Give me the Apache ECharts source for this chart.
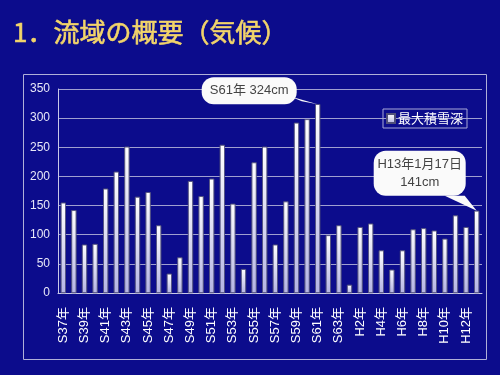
<!DOCTYPE html>
<html><head><meta charset="utf-8">
<script src="https://cdn.jsdelivr.net/npm/echarts@6/dist/echarts.min.js"></script>
<style>html,body{margin:0;padding:0;background:#0c0c8c;}#c{width:500px;height:375px;}</style>
</head><body><div id="c"></div>
<script>
const titleText = '1．流域の概要（気候）';
const seriesName = '最大積雪深';
const categories = [
  'S37年','S38年','S39年','S40年','S41年','S42年','S43年','S44年','S45年','S46年',
  'S47年','S48年','S49年','S50年','S51年','S52年','S53年','S54年','S55年','S56年',
  'S57年','S58年','S59年','S60年','S61年','S62年','S63年',
  'H1年','H2年','H3年','H4年','H5年','H6年','H7年','H8年','H9年','H10年','H11年','H12年','H13年'
];
const snowDepth = [
  155,142,83,84,179,208,251,165,173,116,
  33,61,192,166,196,254,153,41,224,251,
  83,157,292,298,324,99,116,
  14,113,119,73,40,73,109,111,107,93,133,113,141
];
const yTicks = {min:0, max:350, interval:50};
const callouts = [
  {index:24, lines:['S61年 324cm']},
  {index:39, lines:['H13年1月17日','141cm']}
];

const chart = echarts.init(document.getElementById('c'), null, {renderer:'canvas'});
const ff = '"Liberation Sans", "Noto Sans CJK JP", sans-serif';
const option = {
  backgroundColor:'#0c0c8c',
  animation:false,
  title:{text:titleText, left:8, top:14, textStyle:{color:'#f2d46a', fontSize:26, fontWeight:'normal', textBorderColor:'#f2d46a', textBorderWidth:0.6, fontFamily:'"Noto Sans CJK JP", sans-serif'}},
  grid:{left:58, right:18, top:89, bottom:82},
  legend:{
    data:[{name:seriesName, icon:'rect'}], left:383, top:109, orient:'horizontal',
    itemWidth:8, itemHeight:9, itemGap:4, padding:[3,4,3,3],
    borderColor:'#a8a8d8', borderWidth:1,
    textStyle:{color:'#ffffff', fontSize:13, fontFamily:'"Noto Sans CJK JP", sans-serif', padding:[0,0,0,-2]}
  },
  xAxis:{
    type:'category', data:categories, boundaryGap:true,
    axisLine:{lineStyle:{color:'#c8c8e8', width:1}},
    axisTick:{inside:true, length:3, lineStyle:{color:'#c8c8e8'}},
    axisLabel:{interval:1, rotate:90, color:'#ffffff', fontSize:13, margin:14, fontFamily:ff}
  },
  yAxis:{
    type:'value', min:yTicks.min, max:yTicks.max, interval:yTicks.interval,
    axisLine:{show:true, lineStyle:{color:'#c8c8e8'}},
    axisTick:{show:false},
    splitLine:{lineStyle:{color:'#a0a0d0', width:1}},
    axisLabel:{color:'#e8e8f8', fontSize:12, margin:8, fontFamily:ff}
  },
  series:[{
    name:seriesName, type:'bar', data:snowDepth, barWidth:5,
    itemStyle:{
      color:new echarts.graphic.LinearGradient(0,0,0,1,[{offset:0,color:'#ffffff'},{offset:1,color:'#b4b4e4'}]),
      borderColor:'#50507a', borderWidth:0.6
    }
  }],
  graphic:[]
};
chart.setOption(option);

// frame around chart area
const gfx = [{type:'rect', shape:{x:23.5, y:74.5, width:463, height:285}, style:{fill:null, stroke:'#b0b0d8', lineWidth:1}, z:0}];
// callouts anchored to bar tops via the chart scales
const boxes = [
  {w:95, h:27, dx:-116, dy:-27, tail:[[-28,-8],[-16,-3]]},
  {w:92, h:45, dx:-103, dy:-60, tail:[[-32,-15],[-12,-15]]}
];
callouts.forEach((c,i)=>{
  const p = chart.convertToPixel({seriesIndex:0}, [c.index, snowDepth[c.index]]);
  const b = boxes[i];
  const bx = p[0]+b.dx, by = p[1]+b.dy;
  gfx.push({type:'polygon', shape:{points:[[p[0]+b.tail[0][0], p[1]+b.tail[0][1]],[p[0]+b.tail[1][0], p[1]+b.tail[1][1]],[p[0],p[1]]]}, style:{fill:'#fafafa'}, z:10});
  gfx.push({type:'rect', shape:{x:bx, y:by, width:b.w, height:b.h, r:12}, style:{fill:'#fafafa'}, z:10});
  gfx.push({type:'text', x:bx+b.w/2, y:by+b.h/2, style:{text:c.lines.join('\n'), fill:'#444444', font:'13px '+ff, align:'center', verticalAlign:'middle', lineHeight:18}, z:11});
});
chart.setOption({graphic:gfx});
</script></body></html>
